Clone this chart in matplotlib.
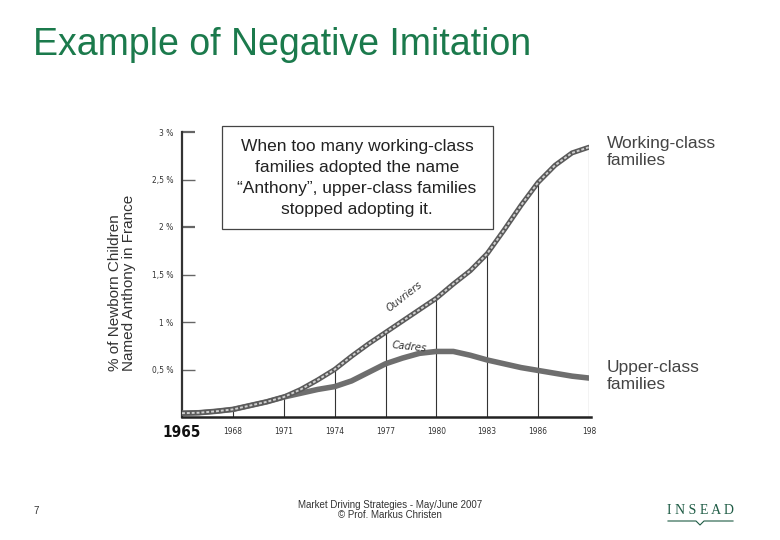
import matplotlib
matplotlib.use("Agg")
import matplotlib.pyplot as plt
from matplotlib.patches import Rectangle
from matplotlib.lines import Line2D

# ---- data ----
years = [1965, 1966, 1967, 1968, 1969, 1970, 1971, 1972, 1973, 1974, 1975, 1976,
         1977, 1978, 1979, 1980, 1981, 1982, 1983, 1984, 1985, 1986, 1987, 1988, 1989]
ouvriers = [0.04, 0.045, 0.06, 0.08, 0.12, 0.16, 0.21, 0.29, 0.39, 0.50, 0.64, 0.77,
            0.89, 1.01, 1.13, 1.25, 1.40, 1.54, 1.72, 1.97, 2.23, 2.47, 2.65, 2.78, 2.84]
cadres = [0.04, 0.045, 0.06, 0.08, 0.12, 0.16, 0.21, 0.25, 0.29, 0.32, 0.38, 0.47,
          0.56, 0.62, 0.67, 0.69, 0.69, 0.65, 0.60, 0.56, 0.52, 0.49, 0.46, 0.43, 0.41]
label_years = [1965, 1968, 1971, 1974, 1977, 1980, 1983, 1986, 1989]
label_texts = ["1965", "1968", "1971", "1974", "1977", "1980", "1983", "1986", "198"]
y_ticks = [0.5, 1.0, 1.5, 2.0, 2.5, 3.0]
y_tick_labels = ["0,5 %", "1 %", "1,5 %", "2 %", "2,5 %", "3 %"]

W, H = 780, 540
fig = plt.figure(figsize=(7.8, 5.4), dpi=100)
fig.patch.set_facecolor("white")

def fx(px):
    return px / W

def fy(py):
    return 1 - py / H

sans = ["Liberation Sans", "DejaVu Sans"]
cond = dict(family="DejaVu Sans", stretch="condensed")

ax = fig.add_axes([fx(182), fy(417), fx(589) - fx(182), fy(132) - fy(417)])
ax.set_xlim(1965, 1989)
ax.set_ylim(0, 3)
for s in ["top", "right"]:
    ax.spines[s].set_visible(False)
ax.spines["left"].set_color("#333333")
ax.spines["left"].set_linewidth(1.6)
ax.spines["bottom"].set_color("#222222")
ax.spines["bottom"].set_linewidth(1.8)
ax.spines["bottom"].set_bounds(1965, 1989.1)

ax.set_yticks(y_ticks)
ax.set_yticklabels(y_tick_labels, fontsize=6, color="#333333", **cond)
ax.tick_params(axis="y", direction="in", length=9, width=1.0, color="#666666", pad=6)
for t, lab in zip(ax.yaxis.get_major_ticks(), y_tick_labels):
    if lab in ("2 %", "3 %"):
        t.tick1line.set_color("#111111")
        t.tick1line.set_markeredgewidth(1.6)
ax.set_xticks([])

# vertical guide lines from baseline to upper curve
for yr in label_years[1:]:
    v = ouvriers[years.index(yr)]
    ax.vlines(yr, 0, v, color="#333333", linewidth=0.8)

# curves
ax.plot(years, cadres, color="#6e6e6e", linewidth=4.0, solid_capstyle="round", zorder=3)
ax.plot(years, ouvriers, color="#5a5a5a", linewidth=3.6, solid_capstyle="round", zorder=4)
ax.plot(years, ouvriers, color="#cfcfcf", linewidth=1.4, linestyle=(0, (1.5, 1)), zorder=5)

# x labels
for yr, t in zip(label_years, label_texts):
    if yr == 1965:
        ax.text(yr, -0.08, t, ha="center", va="top", fontsize=11, fontweight="bold",
                color="#111111", **cond)
    else:
        ax.text(yr, -0.1, t, ha="center", va="top", fontsize=6, color="#333333", **cond)

# curve labels
ax.text(1978.1, 1.27, "Ouvriers", rotation=38, ha="center", va="center",
        fontsize=8, style="italic", color="#333333", **cond)
ax.text(1978.4, 0.74, "Cadres", rotation=-6, ha="center", va="center",
        fontsize=8, style="italic", color="#333333", **cond)

# annotation box
fig.patches.append(Rectangle((fx(222), fy(229)), fx(493) - fx(222), fy(126) - fy(229),
                             transform=fig.transFigure, fill=True, facecolor="white",
                             edgecolor="#444444", linewidth=0.9, zorder=10))
fig.text(fx(357), fy(178),
         "When too many working-class\nfamilies adopted the name\n\u201cAnthony\u201d, upper-class families\nstopped adopting it.",
         ha="center", va="center", fontsize=12.5, family=sans, color="#222222",
         linespacing=1.5, zorder=11)

# right labels
fig.text(fx(607), fy(152), "Working-class\nfamilies", ha="left", va="center",
         fontsize=12.5, family=sans, color="#444444", linespacing=1.2)
fig.text(fx(607), fy(376), "Upper-class\nfamilies", ha="left", va="center",
         fontsize=12.5, family=sans, color="#444444", linespacing=1.2)

# y axis label
fig.text(fx(122), fy(283), "% of Newborn Children\nNamed Anthony in France",
         rotation=90, ha="center", va="center", multialignment="left", fontsize=11,
         family=sans, color="#333333", linespacing=1.05)

# title
fig.text(fx(33), fy(45), "Example of Negative Imitation", ha="left", va="center",
         fontsize=27, family=sans, color="#1b7a4c")

# footer
fig.text(fx(33), fy(511), "7", ha="left", va="center", fontsize=7, family=sans,
         color="#333333")
fig.text(fx(390), fy(510), "Market Driving Strategies - May/June 2007\n\u00a9 Prof. Markus Christen",
         ha="center", va="center", fontsize=7, family=sans, color="#333333",
         linespacing=1.1)
fig.text(fx(700), fy(510), "I N S E A D", ha="center", va="center", fontsize=10,
         family=["Liberation Serif", "DejaVu Serif"], color="#1f5c45")
fig.lines.append(Line2D([fx(668), fx(696), fx(700), fx(704), fx(733)],
                        [fy(521), fy(521), fy(525), fy(521), fy(521)],
                        transform=fig.transFigure, color="#1f5c45", linewidth=0.8))

fig.savefig("out.png", dpi=100, facecolor="white")
